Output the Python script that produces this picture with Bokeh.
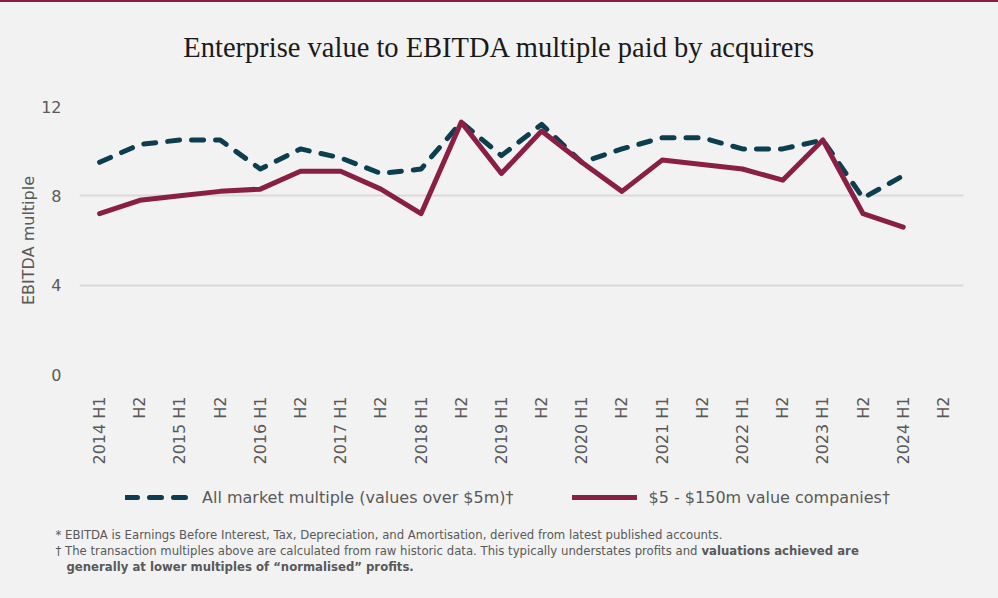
import math
from bokeh.plotting import figure
from bokeh.layouts import column
from bokeh.models import (Legend, LegendItem, Range1d, FixedTicker)
from bokeh.embed import file_html
from bokeh.resources import INLINE
from bokeh.core.properties import value

# ---------------- data ----------------
periods = ["2014 H1", "2014 H2", "2015 H1", "2015 H2", "2016 H1", "2016 H2",
           "2017 H1", "2017 H2", "2018 H1", "2018 H2", "2019 H1", "2019 H2",
           "2020 H1", "2020 H2", "2021 H1", "2021 H2", "2022 H1", "2022 H2",
           "2023 H1", "2023 H2", "2024 H1", "2024 H2"]
tick_labels = ["2014 H1", "H2", "2015 H1", "H2", "2016 H1", "H2",
               "2017 H1", "H2", "2018 H1", "H2", "2019 H1", "H2",
               "2020 H1", "H2", "2021 H1", "H2", "2022 H1", "H2",
               "2023 H1", "H2", "2024 H1", "H2"]
all_market = [9.5, 10.3, 10.5, 10.5, 9.2, 10.1, 9.7, 9.0, 9.2, 11.3, 9.8, 11.2,
              9.5, 10.1, 10.6, 10.6, 10.1, 10.1, 10.5, 7.9, 8.9, float("nan")]
small_cap = [7.2, 7.8, 8.0, 8.2, 8.3, 9.1, 9.1, 8.3, 7.2, 11.3, 9.0, 10.9,
             9.5, 8.2, 9.6, 9.4, 9.2, 8.7, 10.5, 7.2, 6.6, float("nan")]
y_ticks = [0, 4, 8, 12]

title_text = "Enterprise value to EBITDA multiple paid by acquirers"
y_title = "EBITDA multiple"
legend_all = "All market multiple (values over $5m)\u2020"
legend_small = "$5 - $150m value companies\u2020"
note1 = "* EBITDA is Earnings Before Interest, Tax, Depreciation, and Amortisation, derived from latest published accounts."
note2a = "\u2020 The transaction multiples above are calculated from raw historic data. This typically understates profits and "
note2b = "valuations achieved are"
note3 = "generally at lower multiples of \u201cnormalised\u201d profits."

# ---------------- style ----------------
BG = "#f2f2f2"
TEAL = "#0b3f50"
MAROON = "#8a1f45"
GREY = "#595959"
FONT = "DejaVu Sans"

W = 998
TOPBAR = 2
TITLE_H = 92                    # page y 2 .. 94
MAIN_Y = TOPBAR + TITLE_H       # page y where the main chart canvas starts
BOT_Y = 475                     # page y where the legend/notes strip starts
MAIN_H = BOT_Y - MAIN_Y
BOT_H = 598 - BOT_Y
FL, FR = 79, 963
FT, FB = 106 - MAIN_Y, 374 - MAIN_Y   # frame edges inside main canvas


def strip(height):
    f = figure(width=W, height=height, x_range=Range1d(0, W),
               y_range=Range1d(height, 0), output_backend="svg",
               toolbar_location=None, min_border=0, title=None)
    f.frame_align = False
    f.axis.visible = False
    f.grid.visible = False
    f.background_fill_color = BG
    f.border_fill_color = BG
    f.outline_line_color = None
    return f


# ---------------- title strip ----------------
t = strip(TITLE_H)
t.text(x=[W / 2], y=[47 - TOPBAR], text=[title_text], text_align="center",
       text_baseline="middle", text_font=value("Liberation Serif"),
       text_font_size="28.5px", text_color="#1a1a1a")

# ---------------- main chart ----------------
x_idx = list(range(len(periods)))
line_all = dict(line_color=TEAL, line_width=5, line_dash="12 12",
                line_cap="round", line_join="round")
line_small = dict(line_color=MAROON, line_width=5, line_cap="round",
                  line_join="round")

p = figure(width=W, height=MAIN_H, x_range=Range1d(-0.5, len(periods) - 0.5),
           y_range=Range1d(0, 12), output_backend="svg", toolbar_location=None,
           min_border_left=FL, min_border_right=W - FR, min_border_top=FT,
           min_border_bottom=MAIN_H - FB, title=None)
p.frame_align = False
p.background_fill_color = BG
p.border_fill_color = BG
p.outline_line_color = None

p.xgrid.grid_line_color = None
p.ygrid.grid_line_color = "#d9d9d9"
p.ygrid.grid_line_width = 2

for ax in (p.xaxis[0], p.yaxis[0]):
    ax.axis_line_color = None
    ax.major_tick_line_color = None
    ax.minor_tick_line_color = None
    ax.major_label_text_font = FONT
    ax.major_label_text_font_size = "16px"
    ax.major_label_text_color = GREY

p.xaxis.ticker = FixedTicker(ticks=x_idx)
p.xaxis.major_label_overrides = {i: lbl for i, lbl in zip(x_idx, tick_labels)}
p.xaxis.major_label_orientation = math.pi / 2
p.xaxis.major_label_standoff = 16

p.yaxis.ticker = FixedTicker(ticks=y_ticks)
p.yaxis.major_label_standoff = 12
p.yaxis.axis_label = y_title
p.yaxis.axis_label_text_font = FONT
p.yaxis.axis_label_text_font_size = "16px"
p.yaxis.axis_label_text_font_style = "normal"
p.yaxis.axis_label_text_color = GREY
p.yaxis.axis_label_standoff = 0

p.line(x_idx, all_market, **line_all)
p.line(x_idx, small_cap, **line_small)

# ---------------- legend + footnotes strip ----------------
n = strip(BOT_H)

# legend keys: renderers with no visible data, styled like the series lines
k1 = n.line(x=[float("nan")], y=[float("nan")], **line_all)
k2 = n.line(x=[float("nan")], y=[float("nan")], **line_small)
LEG_CY = 497 - BOT_Y
legend = Legend(items=[LegendItem(label=legend_all, renderers=[k1]),
                       LegendItem(label=legend_small, renderers=[k2])],
                orientation="horizontal",
                location=(125, BOT_H - (LEG_CY + 10)),
                padding=0, margin=0, spacing=58, label_standoff=12,
                glyph_width=65, glyph_height=20, label_height=20,
                border_line_color=None, background_fill_alpha=0,
                label_text_font=FONT, label_text_font_size="16px",
                label_text_color=GREY)
n.add_layout(legend)

common = dict(text_baseline="middle", text_font=value(FONT),
              text_font_size="11.7px", text_color=GREY)
n.text(x=[55], y=[534 - BOT_Y], text=[note1], **common)
n.text(x=[55], y=[550 - BOT_Y], text=[note2a], **common)
n.text(x=[701], y=[550 - BOT_Y], text=[note2b], text_font_style="bold", **common)
n.text(x=[66], y=[566 - BOT_Y], text=[note3], text_font_style="bold", **common)

layout = column(t, p, n, spacing=0)

html = file_html(layout, INLINE)
html = html.replace(
    "</head>",
    "<style>html,body{margin:0;padding:0;background:#f2f2f2;overflow:hidden}"
    "body{border-top:2px solid #8a1f45}</style></head>", 1)
open("out.html", "w").write(html)
